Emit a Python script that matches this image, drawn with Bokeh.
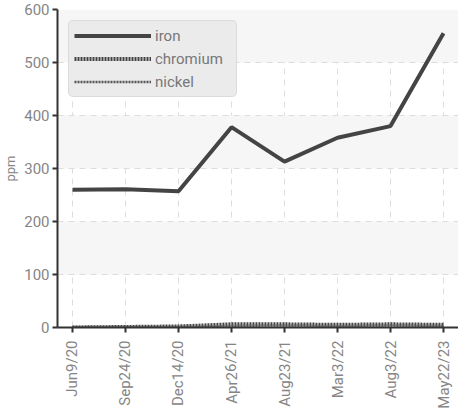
from bokeh.plotting import figure
from bokeh.models import FixedTicker, Range1d, Legend, LegendItem
from bokeh.embed import file_html
from bokeh.resources import INLINE

dates = ["Jun9/20", "Sep24/20", "Dec14/20", "Apr26/21", "Aug23/21", "Mar3/22", "Aug3/22", "May22/23"]
iron = [260, 261, 257, 378, 313, 358, 380, 555]
chromium = [0, 1, 2, 6, 6, 5, 6, 5]
nickel = [1, 1, 1, 3, 4, 3, 4, 3]
y_ticks = [0, 100, 200, 300, 400, 500, 600]

FONT = "Roboto, 'Liberation Sans', sans-serif"
xs = list(range(len(dates)))

p = figure(width=458, height=411, output_backend="svg", toolbar_location=None,
           x_range=Range1d(-0.283, len(dates) - 1 + 0.283), y_range=Range1d(0, 600),
           min_border_left=57, min_border_top=9, min_border_bottom=84, min_border_right=0)
p.outline_line_color = None

r_iron = p.line(xs, iron, line_color="#444444", line_width=4)
r_cr = p.line(xs, chromium, line_color="#444444", line_width=4, line_dash="2 1")
r_ni = p.line(xs, nickel, line_color="#555555", line_width=2.5, line_dash="2 1")

p.xaxis.ticker = FixedTicker(ticks=xs)
p.xaxis.major_label_overrides = {i: d for i, d in enumerate(dates)}
p.xaxis.major_label_orientation = 1.5708
p.yaxis.ticker = FixedTicker(ticks=y_ticks)
p.yaxis.axis_label = "ppm"

for ax in (p.xaxis[0], p.yaxis[0]):
    ax.axis_line_color = "#333333"
    ax.axis_line_width = 2
    ax.major_tick_line_color = "#333333"
    ax.major_tick_line_width = 2
    ax.major_tick_out = 5
    ax.major_tick_in = 0
    ax.minor_tick_line_color = None
    ax.major_label_text_font = FONT
    ax.major_label_text_font_size = "15px"
    ax.major_label_text_color = "#858585"
    ax.axis_label_text_font = FONT
    ax.axis_label_text_font_size = "13px"
    ax.axis_label_text_font_style = "normal"
    ax.axis_label_text_color = "#858585"
p.xaxis.major_label_standoff = 8
p.yaxis.major_label_standoff = 3
p.yaxis.axis_label_standoff = 3

p.xgrid.grid_line_color = "#dddddd"
p.xgrid.grid_line_dash = "6 5"
p.ygrid.grid_line_color = "#dddddd"
p.ygrid.grid_line_dash = "6 5"
p.ygrid.band_fill_color = "#f6f6f6"
p.ygrid.band_fill_alpha = 1.0

legend = Legend(items=[LegendItem(label="iron", renderers=[r_iron]),
                       LegendItem(label="chromium", renderers=[r_cr]),
                       LegendItem(label="nickel", renderers=[r_ni])])
legend.location = "top_left"
legend.margin = 11
legend.glyph_width = 77
legend.glyph_height = 19
legend.spacing = 4
legend.padding = 5
legend.label_text_font = FONT
legend.label_text_font_size = "15px"
legend.label_text_color = "#777777"
legend.label_standoff = 4
legend.background_fill_color = "#ebebeb"
legend.background_fill_alpha = 1.0
legend.border_line_color = "#cccccc"
legend.label_width = 76
if "border_radius" in legend.properties():
    legend.border_radius = 5
p.add_layout(legend, "center")

open("out.html", "w").write(file_html(p, INLINE))
